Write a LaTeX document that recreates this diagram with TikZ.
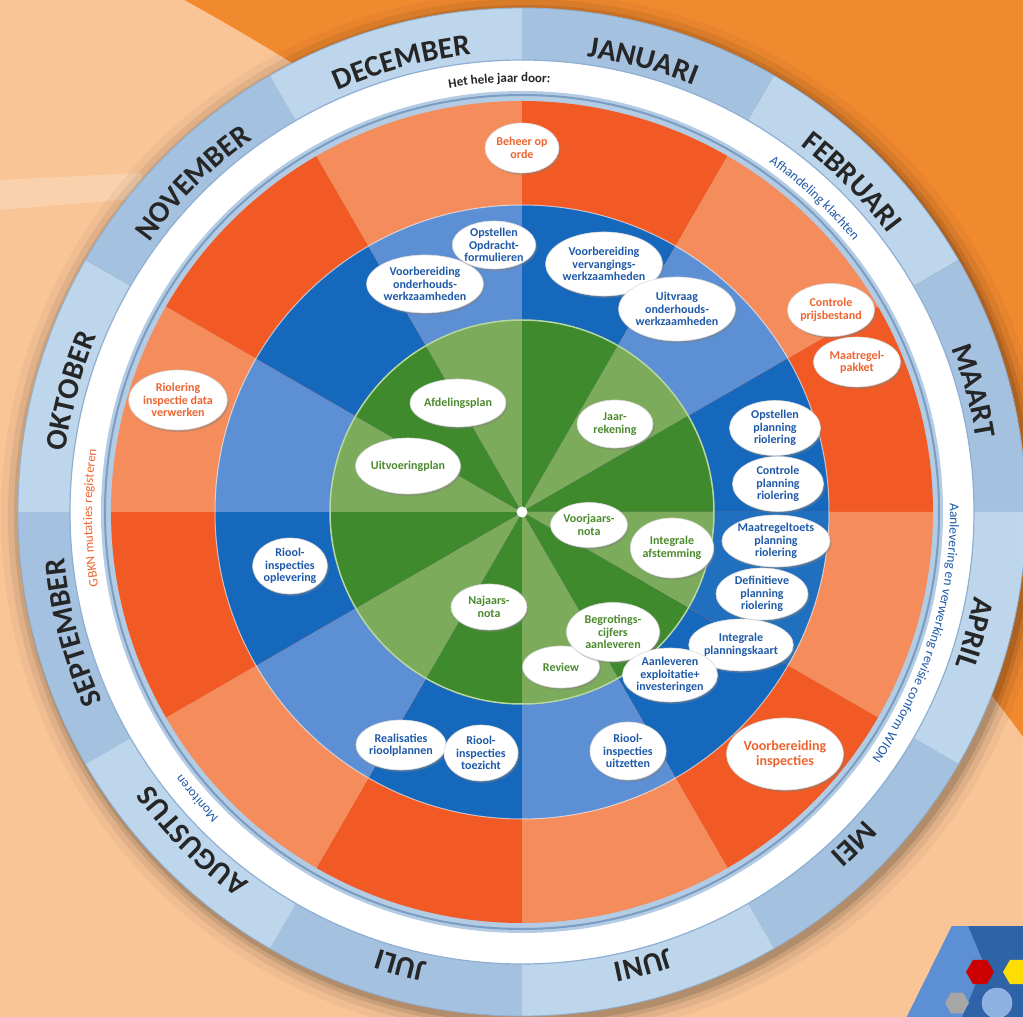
\documentclass[tikz,border=0pt]{standalone}
\usepackage{fontspec}
\setmainfont{Carlito}
\usetikzlibrary{shapes.geometric,decorations.text,shadows}

\definecolor{bgorange}{HTML}{F18A2F}
\definecolor{bgpeach}{HTML}{F9C597}
\definecolor{mdark}{HTML}{A4C2E0}
\definecolor{mlight}{HTML}{BDD6EC}
\definecolor{mline}{HTML}{8FB0D3}
\definecolor{thinring}{HTML}{B3CBE3}
\definecolor{thinline}{HTML}{7B9DC3}
\definecolor{ored}{HTML}{F15A24}
\definecolor{osalm}{HTML}{F58C5C}
\definecolor{bdark}{HTML}{1668BC}
\definecolor{bmid}{HTML}{2170C0}
\definecolor{blight}{HTML}{5C8FD3}
\definecolor{gdark}{HTML}{3F8A2C}
\definecolor{glight}{HTML}{7BAB5B}
\definecolor{gline}{HTML}{B8D6A0}
\definecolor{txtblue}{HTML}{1F5AA8}
\definecolor{txtgreen}{HTML}{4C8A2E}
\definecolor{txtorange}{HTML}{EC6430}
\definecolor{monthtext}{HTML}{262626}
\definecolor{logoblue}{HTML}{2F63A8}

\tikzset{
  bubble/.style={ellipse, fill=white, draw=black!15, line width=.6pt, inner sep=0pt, align=center,
    font=\fontsize{12}{12.5}\selectfont\bfseries,
    drop shadow={opacity=.45, shadow xshift=1.5pt, shadow yshift=-2pt}},
  bubblue/.style={bubble, text=txtblue},
  bubgreen/.style={bubble, text=txtgreen},
  buborange/.style={bubble, text=txtorange},
  dims/.style 2 args={minimum width=#1pt, minimum height=#2pt},
  hexa/.style={regular polygon, regular polygon sides=6, inner sep=0pt}
}

\begin{document}
\begin{tikzpicture}[x=1pt,y=1pt]
	\useasboundingbox (-522,-505) rectangle (501,512);
	% background
	\fill[bgorange] (-522,-505) rectangle (501,512);
	\fill[bgpeach] (-1594,-1765) circle[radius=2600];
	\fill[white,opacity=.22] (-522,332) -- (-380,339) -- (-380,314) -- (-522,302) -- cycle;
	\foreach \r/\op in {524/0.04,517/0.06,511/0.09,507/0.12}
		\fill[black,opacity=\op] (3,-4) circle[radius=\r];
	% rings
	\fill[white] (0,0) circle[radius=452];
	\fill[thinring] (0,0) circle[radius=421];
	\foreach \a/\mc/\oc/\bc/\gc in {90/mdark/ored/bdark/gdark, 60/mlight/osalm/blight/glight,
		30/mdark/ored/bdark/gdark, 0/mlight/osalm/bmid/glight, -30/mdark/ored/bdark/gdark,
		-60/mlight/osalm/blight/glight, -90/mdark/ored/bdark/gdark, -120/mlight/osalm/blight/glight,
		-150/mdark/ored/bdark/gdark, 180/mlight/osalm/blight/glight, 150/mdark/ored/bdark/gdark,
		120/mlight/osalm/blight/glight}
	{
		\fill[\mc] (\a:452) arc[start angle=\a, delta angle=-30, radius=452]
			-- (\a-30:504) arc[start angle=\a-30, delta angle=30, radius=504] -- cycle;
		\fill[\oc] (0,0) -- (\a:411) arc[start angle=\a, delta angle=-30, radius=411] -- cycle;
		\fill[\bc] (0,0) -- (\a:307) arc[start angle=\a, delta angle=-30, radius=307] -- cycle;
		\fill[\gc] (0,0) -- (\a:192) arc[start angle=\a, delta angle=-30, radius=192] -- cycle;
	}
	\draw[mline, line width=.8] (0,0) circle[radius=504];
	\draw[mline, line width=1.2] (0,0) circle[radius=452];
	\draw[thinline, line width=2] (0,0) circle[radius=417];
	\draw[white, opacity=.6, line width=1] (0,0) circle[radius=307];
	\draw[gline, line width=1.5] (0,0) circle[radius=192];
	\node[circle, fill=white, minimum size=11pt, inner sep=0pt] (midden) at (0,0) {};

	% months
	\foreach \a/\n in {90/JANUARI, 60/FEBRUARI, 30/MAART, 0/APRIL, -30/MEI, -60/JUNI, -90/JULI,
		-120/AUGUSTUS, -150/SEPTEMBER, 180/OKTOBER, 150/NOVEMBER, 120/DECEMBER}
		\path[decorate, decoration={text along path, text align=center, text color=monthtext,
			text/.expanded={|\noexpand\fontsize{30}{30}\noexpand\selectfont\noexpand\bfseries|\n}}]
			(\a:460) arc[start angle=\a, delta angle=-30, radius=460];

	% texts in the white band
	\path[decorate, decoration={text along path, text align=center, text color=monthtext,
		text={|\fontsize{13}{13}\selectfont\bfseries|Het hele jaar door:}}]
		(113:430) arc[start angle=113, delta angle=-40, radius=430];
	\path[decorate, decoration={text along path, text align=center, text color=txtblue,
		text={|\fontsize{13.5}{13.5}\selectfont|Afhandeling klachten}}]
		(67:428) arc[start angle=67, delta angle=-40, radius=428];
	\path[decorate, decoration={text along path, text align=center, text color=txtblue,
		text={|\fontsize{13.5}{13.5}\selectfont|Aanlevering en verwerking revisie conform WION}}]
		(23:428) arc[start angle=23, delta angle=-80, radius=428];
	\path[decorate, decoration={text along path, text align=center, text color=txtorange,
		text={|\fontsize{13}{13}\selectfont|GBKN mutaties registeren}}]
		(200.8:430) arc[start angle=200.8, delta angle=-40, radius=430];
	\path[decorate, decoration={text along path, text align=center, text color=txtblue,
		text={|\fontsize{13}{13}\selectfont|Monitoren}}]
		(-118.6:430) arc[start angle=-118.6, delta angle=-40, radius=430];

	% green bubbles
	\node[bubgreen, dims={82}{48}] (afdplan) at (-64,109) {Afdelingsplan};
	\node[bubgreen, dims={87}{56}] (uitvplan) at (-114,46) {Uitvoeringplan};
	\node[bubgreen, dims={76}{48}] (jaarrek) at (93,88) {Jaar-\\rekening};
	\node[bubgreen, dims={77}{45}] (voorjaar) at (67,-13) {Voorjaars-\\nota};
	\node[bubgreen, dims={81}{60}] (intafst) at (150,-36) {Integrale\\afstemming};
	\node[bubgreen, dims={76}{46}] (najaar) at (-33,-95) {Najaars-\\nota};
	\node[bubgreen, dims={77}{42}] (review) at (39,-155) {Review};
	\node[bubgreen, dims={93}{59}] (begroting) at (91,-120) {Begrotings-\\cijfers\\aanleveren};

	% blue bubbles
	\node[bubblue, dims={113}{58}] (vbonderh) at (-97,228) {Voorbereiding\\onderhouds-\\werkzaamheden};
	\node[bubblue, dims={78}{48}] (opdracht) at (-28,267) {Opstellen\\Opdracht-\\formulieren};
	\node[bubblue, dims={110}{64}] (vbvervang) at (82,248) {Voorbereiding\\vervangings-\\werkzaamheden};
	\node[bubblue, dims={107}{64}] (uitvraag) at (155,203) {Uitvraag\\onderhouds-\\werkzaamheden};
	\node[bubblue, dims={91}{55}] (opstplan) at (253,84) {Opstellen\\planning\\riolering};
	\node[bubblue, dims={91}{55}] (contrplan) at (256,28) {Controle\\planning\\riolering};
	\node[bubblue, dims={95}{52}] (toetsplan) at (254,-29) {Maatregeltoets\\planning\\riolering};
	\node[bubblue, dims={92}{52}] (defplan) at (240,-82) {Definitieve\\planning\\riolering};
	\node[bubblue, dims={94}{52}] (intkaart) at (219,-133) {Integrale\\planningskaart};
	\node[bubblue, dims={94}{54}] (aanlev) at (148,-163) {Aanleveren\\exploitatie+\\investeringen};
	\node[bubblue, dims={76}{58}] (uitzet) at (106,-239) {Riool-\\inspecties\\uitzetten};
	\node[bubblue, dims={84}{50}] (realis) at (-121,-233) {Realisaties\\rioolplannen};
	\node[bubblue, dims={74}{56}] (toezicht) at (-41,-241) {Riool-\\inspecties\\toezicht};
	\node[bubblue, dims={74}{56}] (oplev) at (-232,-54) {Riool-\\inspecties\\oplevering};

	% orange bubbles
	\node[buborange, dims={74}{50}] (beheer) at (0,364) {Beheer op\\orde};
	\node[buborange, dims={85}{53}] (prijs) at (309,202) {Controle\\prijsbestand};
	\node[buborange, dims={87}{50}] (pakket) at (335,150) {Maatregel-\\pakket};
	\node[buborange, dims={92}{60}] (rioldata) at (-344,112) {Riolering\\inspectie data\\verwerken};
	\node[buborange, dims={116}{72}, font=\fontsize{14}{15}\selectfont\bfseries] (vbinsp) at (263,-242) {Voorbereiding\\inspecties};

	% logo
	\fill[logoblue] (430,-414) -- (501,-414) -- (501,-505) -- (385,-505) -- cycle;
	\fill[blight] (430,-414) -- (446,-414) -- (462,-452) -- (440,-505) -- (385,-505) -- cycle;
	\node[hexa, fill=red!80!black, minimum size=28pt] (hexrood) at (458,-460) {};
	\node[hexa, fill=yellow!80!orange, minimum size=28pt] (hexgeel) at (495,-460) {};
	\node[hexa, fill=gray!70, minimum size=24pt] (hexgrijs) at (435,-491) {};
	\node[circle, fill=blight!70, draw=white!70!blue, minimum size=30pt] (logocirkel) at (475,-491) {};
\end{tikzpicture}
\end{document}
